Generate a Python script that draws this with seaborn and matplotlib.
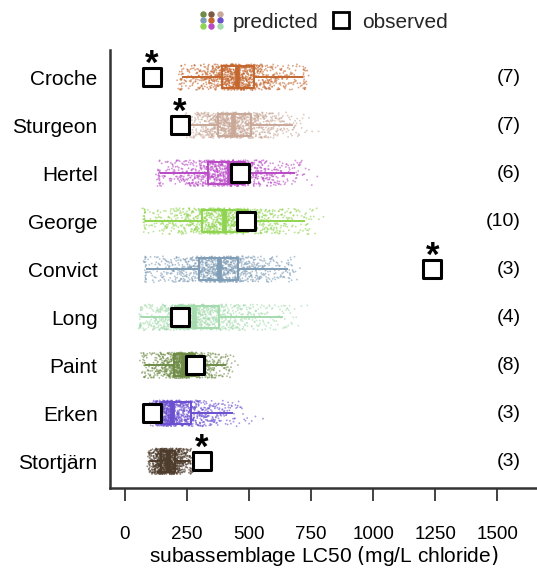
import numpy as np
import pandas as pd
from statistics import NormalDist
import matplotlib
matplotlib.use("Agg")
import matplotlib.pyplot as plt
from matplotlib.legend_handler import HandlerBase
from matplotlib.lines import Line2D
import seaborn as sns

# Lakes, top to bottom
lakes = ["Croche", "Sturgeon", "Hertel", "George", "Convict",
         "Long", "Paint", "Erken", "Stortjärn"]
colors = ["#c4672f", "#c9a898", "#b94ac6", "#8fd44f", "#7f9db6",
          "#a3dbad", "#6f8c46", "#6b4fd1", "#4d3b2b"]

# Predicted subassemblage LC50 (mg/L chloride): five-number summaries
whisk_lo = [230, 250, 141, 81, 85, 64, 81, 108, 100]
q1 = [391, 375, 335, 310, 298, 202, 198, 149, 145]
median = [452, 435, 419, 399, 379, 278, 232, 189, 173]
q3 = [520, 508, 484, 496, 456, 379, 282, 266, 202]
whisk_hi = [718, 677, 685, 726, 657, 637, 407, 435, 262]
# extent of the predicted cloud beyond the whiskers
cloud_lo = [210, 235, 125, 70, 75, 55, 60, 100, 90]
cloud_hi = [740, 780, 775, 800, 705, 735, 455, 556, 272]

# Observed LC50 and number of species
observed = [108, 222, 463, 488, 1238, 222, 282, 108, 310]
significant = [True, True, False, False, True, False, False, False, True]
n_species = ["(7)", "(7)", "(6)", "(10)", "(3)", "(4)", "(8)", "(3)", "(3)"]

ticks = [0, 250, 500, 750, 1000, 1250, 1500]

sns.set_theme(style="white")
plt.rcParams["font.family"] = ["Liberation Sans", "DejaVu Sans"]
plt.rcParams["mathtext.fontset"] = "dejavusans"

# predicted cloud: evenly spaced quantiles of each lake's distribution,
# mapped through normal scores so the density tapers toward the tails
n_pts = 1000
nd = NormalDist()
z = np.array([nd.inv_cdf((k + 0.5) / n_pts) for k in range(n_pts)])
z_knots = [z.min(), -2.0, -0.674, 0.0, 0.674, 2.0, z.max()]
cloud_rows = []
box_rows = []
for i, lake in enumerate(lakes):
    knots = [cloud_lo[i], whisk_lo[i], q1[i], median[i], q3[i], whisk_hi[i], cloud_hi[i]]
    vals = np.interp(z, z_knots, knots)
    cloud_rows.append(pd.DataFrame({"lake": lake, "lc50": vals}))
    box_rows.append(pd.DataFrame({"lake": lake,
                                  "lc50": [whisk_lo[i], q1[i], median[i], q3[i], whisk_hi[i]]}))
cloud = pd.concat(cloud_rows, ignore_index=True)
boxes = pd.concat(box_rows, ignore_index=True)
obs = pd.DataFrame({"lake": lakes, "lc50": observed})

fig = plt.figure(figsize=(5.37, 5.71), dpi=100)
ax = fig.add_axes([0.205, 0.145, 0.795, 0.767])

palette = dict(zip(lakes, colors))

sns.stripplot(data=cloud, x="lc50", y="lake", hue="lake", palette=palette,
              order=lakes, hue_order=lakes, jitter=0.27, size=1.3,
              alpha=0.6, linewidth=0, legend=False, ax=ax, zorder=1)

sns.boxplot(data=boxes, x="lc50", y="lake", hue="lake", palette=palette,
            order=lakes, hue_order=lakes, whis=(0, 100), width=0.45,
            fill=False, linewidth=1.4, showfliers=False, legend=False,
            capprops={"linewidth": 0},
            medianprops={"linewidth": 3.4}, ax=ax)

sns.scatterplot(data=obs, x="lc50", y="lake", marker="s", s=160,
                facecolor="white", edgecolor="black", linewidth=2.2,
                ax=ax, zorder=5)

for i, lake in enumerate(lakes):
    if significant[i]:
        ax.text(observed[i], i - 0.26, "*", ha="center", va="center",
                fontsize=25, fontweight="bold", color="black", zorder=6)
    ax.text(1595, i, n_species[i], ha="right", va="center",
            fontsize=14, color="black")

ax.set_xlim(-60, 1660)
ax.set_ylim(8.56, -0.56)
ax.set_xticks(ticks)
ax.set_xticklabels([str(t) for t in ticks])
ax.tick_params(axis="x", direction="out", length=9, width=1.3,
               color="#333333", pad=18, labelsize=13.5, bottom=True)
ax.tick_params(axis="y", length=0, pad=9, labelsize=15)
for lbl in ax.get_yticklabels():
    lbl.set_color("black")
for lbl in ax.get_xticklabels():
    lbl.set_color("black")
ax.set_ylabel("")
ax.set_xlabel("subassemblage LC50 $($mg/L chloride$)$", fontsize=15,
              color="black", labelpad=1)
for side in ["top", "right"]:
    ax.spines[side].set_visible(False)
for side in ["left", "bottom"]:
    ax.spines[side].set_color("#333333")
    ax.spines[side].set_linewidth(1.8)


class DotGridHandler(HandlerBase):
    grid = [["#6f8c46", "#7a5a45", "#c9a898"],
            ["#7f9db6", "#c4672f", "#6b4fd1"],
            ["#8fd44f", "#b94ac6", "#a3dbad"]]

    def create_artists(self, legend, orig_handle, xdescent, ydescent,
                       width, height, fontsize, trans):
        arts = []
        for r in range(3):
            for c in range(3):
                x = -xdescent + width * (0.15 + 0.35 * c)
                y = -ydescent + height * (0.95 - 0.42 * r)
                arts.append(Line2D([x], [y], marker="o", ms=3.6, lw=0,
                                   color=self.grid[r][c], transform=trans))
        return arts


pred_handle = Line2D([], [])
obs_handle = Line2D([], [], marker="s", ms=12, lw=0, markerfacecolor="white",
                    markeredgecolor="black", markeredgewidth=2.0)
fig.legend([pred_handle, obs_handle], ["predicted", "observed"],
           handler_map={pred_handle: DotGridHandler()},
           loc="center", bbox_to_anchor=(0.603, 0.961), ncol=2, frameon=False,
           fontsize=15, handlelength=1.1, handletextpad=0.45,
           columnspacing=0.55)

fig.savefig("out.png", dpi=100)
